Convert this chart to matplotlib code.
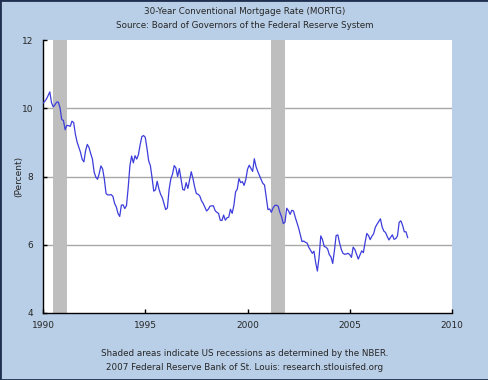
import matplotlib
matplotlib.use("Agg")
import matplotlib.pyplot as plt
import numpy as np

# monthly 30-year conventional mortgage rate, Jan 1990 - Nov 2007
rate_1990 = [10.15, 10.20, 10.27, 10.37, 10.48, 10.16, 10.04, 10.10, 10.18, 10.18, 10.01, 9.67]
rate_1991 = [9.64, 9.37, 9.50, 9.49, 9.47, 9.62, 9.58, 9.24, 9.01, 8.86, 8.71, 8.50]
rate_1992 = [8.43, 8.76, 8.94, 8.85, 8.67, 8.51, 8.13, 7.98, 7.92, 8.09, 8.31, 8.22]
rate_1993 = [7.92, 7.50, 7.46, 7.46, 7.47, 7.42, 7.21, 7.11, 6.92, 6.83, 7.16, 7.17]
rate_1994 = [7.06, 7.15, 7.68, 8.32, 8.60, 8.40, 8.61, 8.51, 8.64, 8.93, 9.17, 9.20]
rate_1995 = [9.15, 8.83, 8.46, 8.32, 7.96, 7.57, 7.61, 7.86, 7.64, 7.48, 7.38, 7.20]
rate_1996 = [7.03, 7.08, 7.62, 7.93, 8.07, 8.32, 8.25, 8.00, 8.23, 7.92, 7.62, 7.60]
rate_1997 = [7.82, 7.65, 7.90, 8.14, 7.94, 7.69, 7.50, 7.48, 7.43, 7.29, 7.21, 7.10]
rate_1998 = [6.99, 7.04, 7.13, 7.14, 7.14, 7.00, 6.95, 6.92, 6.72, 6.71, 6.87, 6.72]
rate_1999 = [6.79, 6.81, 7.04, 6.92, 7.15, 7.55, 7.63, 7.94, 7.82, 7.85, 7.74, 7.91]
rate_2000 = [8.21, 8.33, 8.24, 8.15, 8.52, 8.29, 8.15, 8.03, 7.91, 7.80, 7.75, 7.38]
rate_2001 = [7.03, 7.05, 6.95, 7.08, 7.15, 7.16, 7.13, 6.95, 6.82, 6.62, 6.66, 7.07]
rate_2002 = [7.00, 6.89, 7.01, 6.99, 6.81, 6.65, 6.49, 6.29, 6.09, 6.11, 6.07, 6.05]
rate_2003 = [5.92, 5.84, 5.75, 5.81, 5.48, 5.23, 5.63, 6.26, 6.15, 5.95, 5.93, 5.88]
rate_2004 = [5.71, 5.64, 5.45, 5.83, 6.27, 6.29, 6.06, 5.87, 5.75, 5.72, 5.73, 5.75]
rate_2005 = [5.71, 5.63, 5.93, 5.86, 5.72, 5.58, 5.70, 5.82, 5.77, 6.07, 6.33, 6.27]
rate_2006 = [6.15, 6.25, 6.32, 6.51, 6.60, 6.68, 6.76, 6.52, 6.40, 6.36, 6.24, 6.14]
rate_2007 = [6.22, 6.29, 6.16, 6.18, 6.26, 6.66, 6.70, 6.57, 6.38, 6.38, 6.21]

rates = (rate_1990 + rate_1991 + rate_1992 + rate_1993 + rate_1994 + rate_1995
         + rate_1996 + rate_1997 + rate_1998 + rate_1999 + rate_2000 + rate_2001
         + rate_2002 + rate_2003 + rate_2004 + rate_2005 + rate_2006 + rate_2007)
years = 1990 + np.arange(len(rates)) / 12.0

# NBER recessions (start, end) in decimal years
recessions = [(1990 + 6/12, 1991 + 2/12), (2001 + 2/12, 2001 + 10/12)]

x_ticks = [1990, 1995, 2000, 2005, 2010]
y_ticks = [4, 6, 8, 10, 12]

bg = "#b9cfe7"
txt = "#262626"
plt.rcParams['font.family'] = ['DejaVu Sans']

fig = plt.figure(figsize=(4.89, 3.80), dpi=100, facecolor=bg)
fig.patches.append(plt.Rectangle((0, 0), 1, 1, transform=fig.transFigure,
                                 fill=False, edgecolor="#1f2f4f", linewidth=2))
ax = fig.add_axes([43/489, 1 - 313/380, 409/489, 273/380])
ax.set_facecolor("white")

for r0, r1 in recessions:
    ax.axvspan(r0, r1, color="#bebebe", linewidth=0, zorder=1)

for yv in [6, 8, 10]:
    ax.axhline(yv, color="#a8a8a8", linewidth=1, zorder=0.5)

ax.plot(years, rates, color="#3d3ddc", linewidth=0.9, zorder=3)

ax.set_xlim(1990, 2010)
ax.set_ylim(4, 12)
ax.set_xticks(x_ticks)
ax.set_yticks(y_ticks)
ax.tick_params(direction="in", labelsize=6.5, labelcolor=txt, length=3, width=1, color="black")
ax.tick_params(axis="x", pad=6)
ax.tick_params(axis="y", pad=7)
for s in ["top", "right"]:
    ax.spines[s].set_visible(False)
for s in ["left", "bottom"]:
    ax.spines[s].set_color("black")
    ax.spines[s].set_linewidth(1)

ax.set_ylabel("(Percent)", fontsize=6.5, color=txt, va="center")
ax.yaxis.set_label_coords(-0.059, 0.5)

fig.text(0.5, 1 - 12/380, "30-Year Conventional Mortgage Rate (MORTG)",
         ha="center", va="center", fontsize=6.3, color=txt)
fig.text(0.5, 1 - 25/380, "Source: Board of Governors of the Federal Reserve System",
         ha="center", va="center", fontsize=6.3, color=txt)
fig.text(0.5, 1 - 353/380, "Shaded areas indicate US recessions as determined by the NBER.",
         ha="center", va="center", fontsize=6.3, color=txt)
fig.text(0.5, 1 - 368/380, "2007 Federal Reserve Bank of St. Louis: research.stlouisfed.org",
         ha="center", va="center", fontsize=6.3, color=txt)

fig.savefig("out.png", dpi=100, facecolor=bg)
